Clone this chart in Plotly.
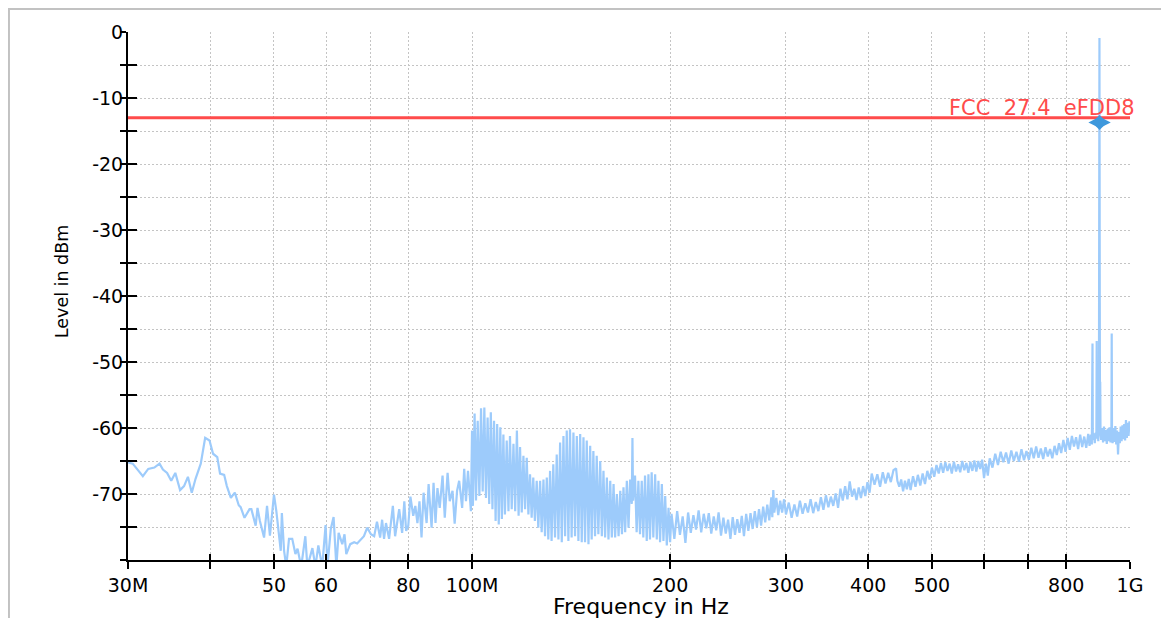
import plotly.graph_objects as go

# ---------------- data ----------------
freq_low = [30.0, 30.5, 31.6, 32.2, 32.9, 33.5, 33.9, 34.4, 34.9, 35.4, 36.0, 36.5, 37.0, 37.5, 38.0,
            38.7, 39.3, 39.9, 40.4, 41.0, 41.4, 42.0, 42.4, 43.0, 43.6, 44.2, 44.5, 45.1, 45.9, 46.2,
            46.9, 47.2, 47.6, 48.3, 48.8, 49.3, 50.0, 50.4, 51.2, 51.4, 51.8, 52.2, 52.7, 53.3, 53.9,
            54.3, 55.0, 55.8, 56.2, 57.2, 57.8, 58.4, 59.2, 59.9, 60.3, 61.0, 61.6, 62.2, 62.7, 63.5,
            64.0, 64.4, 65.3, 66.2, 66.9, 67.8, 68.5, 69.3, 70.2, 71.0, 71.7, 72.5, 73.0, 73.5, 74.0,
            74.8, 75.8, 76.4, 77.5, 78.3, 78.9, 79.4, 80.0, 80.6, 81.4, 82.0, 82.6, 83.2, 83.8, 84.4,
            85.3, 85.9, 86.8, 87.4, 88.0, 88.6, 89.3, 90.2, 90.9, 91.8, 92.5, 93.4, 94.1, 94.9, 95.6,
            96.6, 97.3, 97.9, 98.6, 99.6]
level_low = [-65.2, -65.4, -67.3, -66.2, -66.0, -65.4, -66.3, -66.8, -68.0, -66.8, -69.4, -68.8, -67.4, -69.8, -67.7,
             -65.4, -61.5, -61.9, -63.9, -64.4, -66.9, -67.1, -68.8, -70.6, -69.8, -71.7, -72.0, -73.6, -72.3, -72.3,
             -74.8, -72.1, -74.1, -76.6, -71.8, -76.3, -70.1, -72.5, -78.6, -72.9, -78.6, -81.0, -76.8, -76.8, -79.1,
             -78.3, -81.0, -76.4, -81.0, -78.2, -81.0, -77.8, -81.0, -74.7, -81.0, -75.3, -73.5, -81.0, -75.9, -77.6,
             -76.1, -79.1, -77.6, -77.3, -77.5, -76.8, -76.4, -75.1, -76.1, -76.4, -74.2, -76.6, -73.9, -76.8, -74.4,
             -76.8, -71.8, -76.4, -72.3, -75.9, -71.1, -75.6, -74.8, -70.4, -73.3, -71.8, -74.4, -71.1, -76.6, -69.8,
             -74.4, -68.5, -75.1, -68.3, -74.4, -69.1, -72.1, -67.2, -73.6, -66.8, -71.1, -69.5, -74.5, -69.5, -68.0,
             -72.1, -66.2, -71.1, -66.5, -72.6]

freq_mid = [100.0, 100.3, 100.9, 101.4, 102.0, 102.6, 103.2, 103.8, 104.4, 105.0, 105.6, 106.2, 106.8, 107.4,
            108.0, 108.6, 109.2, 109.8, 110.4, 111.0, 111.6, 112.2, 112.9, 113.6, 114.2, 114.9, 115.6, 116.3,
            117.0, 117.7, 118.3, 119.0, 119.7, 120.4, 121.1, 121.8, 122.5, 123.2, 123.9, 124.6, 125.4, 126.1,
            126.9, 127.6, 128.4, 129.1, 129.9, 130.6, 131.4, 132.1, 132.9, 133.7, 134.5, 135.3, 136.1, 136.9,
            137.7, 138.5, 139.3, 140.1, 140.9, 141.7, 142.6, 143.4, 144.3, 145.1, 146.0, 146.8, 147.7, 148.5,
            149.4, 150.3, 151.2, 152.0, 152.9, 153.8, 154.7, 155.6, 156.6, 157.5, 158.4, 159.3, 160.3, 161.2,
            162.2, 163.1, 164.1, 165.0, 166.0, 167.0, 168.0, 169.0, 169.9, 170.9, 171.9, 172.9, 173.9, 174.9,
            175.3, 175.7, 176.9, 177.9, 179.0, 180.0, 181.1, 182.1, 183.2, 184.3, 185.4, 186.4, 187.5, 188.6,
            189.8, 190.9, 192.0, 193.1, 194.3, 195.4, 196.6, 197.7, 198.9, 200.0]
level_mid = [-60.4, -71.8, -57.8, -71.0, -58.9, -70.3, -57.0, -69.6, -56.9, -70.6, -58.4, -71.5, -57.6, -72.3,
             -58.9, -74.1, -59.4, -74.6, -59.9, -73.8, -61.0, -73.1, -61.9, -72.6, -61.2, -72.3, -62.4, -72.6,
             -60.4, -73.3, -62.9, -72.8, -64.2, -72.3, -64.5, -73.1, -67.0, -73.6, -67.5, -74.1, -68.0, -75.1,
             -68.0, -75.8, -67.8, -76.4, -67.5, -76.9, -66.5, -77.1, -65.5, -76.6, -64.0, -76.9, -62.2, -77.3,
             -61.2, -76.4, -60.4, -77.1, -60.2, -76.6, -60.7, -76.4, -61.2, -77.1, -60.9, -77.3, -61.4, -77.3,
             -61.9, -77.6, -62.7, -76.9, -63.5, -76.4, -64.2, -76.1, -65.0, -76.4, -66.5, -76.6, -67.5, -76.9,
             -68.0, -76.6, -68.5, -76.6, -70.0, -76.4, -69.5, -76.1, -69.0, -75.8, -68.0, -75.1, -67.8, -71.5,
             -61.5, -71.0, -67.2, -75.8, -68.0, -76.1, -68.0, -76.6, -67.2, -77.1, -67.0, -76.9, -66.7, -76.6,
             -67.0, -76.9, -68.0, -77.3, -68.5, -77.1, -70.3, -77.8, -72.1, -77.3]

freq_high = [201, 203, 205, 207, 209, 211, 213, 215, 217, 219, 221, 223, 225, 227, 229, 231, 233, 235, 237, 239,
             241, 243, 245, 247, 249, 251, 253, 255, 257, 259, 261, 263, 265, 267, 269, 271, 273, 275, 277, 279,
             281, 283, 285, 286, 287, 288, 290, 292, 294, 296, 298, 300,
             303, 306, 309, 312, 315, 318, 321, 324, 327, 330, 333, 336, 339, 342, 345, 348, 351, 354, 357, 360,
             363, 366, 369, 372, 375, 378, 381, 384, 387, 390, 393, 396, 399, 402,
             405, 409, 413, 417, 421, 425, 429, 433, 437, 441, 443, 446, 449, 452, 455, 458, 461, 464, 468, 472,
             476, 480, 484, 488, 492, 496, 500, 504, 508, 512, 516, 520, 524, 528, 532, 536, 540, 544, 548, 552,
             556, 560, 564, 568, 572, 576, 580, 584, 588, 592, 596, 600, 604, 608,
             612, 618, 624, 630, 636, 642, 648, 654, 660, 666, 672, 678, 684, 690, 696, 702, 708, 714, 720, 726,
             732, 738, 744, 750, 756, 762, 768, 774, 780, 786, 792, 798, 804, 810, 816, 822, 828, 834, 840, 846,
             852, 858, 864, 868,
             872, 875, 877, 878, 881, 884, 887, 889, 890, 891, 893, 895, 897, 898, 898.6, 899.2, 899.6, 900.2,
             901, 902, 904, 907, 910, 913, 916, 919, 922, 925, 928, 931, 934, 937, 938, 939, 941, 944, 947, 950,
             953, 956, 959, 962, 965, 968, 971, 974, 977, 980, 983, 986, 989, 992, 995, 998, 1000]
level_high = [-73.0, -76.8, -72.6, -76.2, -73.4, -77.4, -72.8, -75.9, -73.2, -75.4, -72.5, -75.8, -73.0, -75.2,
              -72.9, -76.0, -73.4, -75.5, -72.8, -76.3, -73.6, -76.0, -73.9, -76.8, -73.5, -76.2, -73.8, -75.9,
              -73.3, -76.4, -73.0, -75.6, -72.9, -75.3, -72.6, -75.0, -72.3, -74.8, -71.9, -74.3, -71.6, -74.0,
              -70.5, -73.5, -69.4, -72.8, -70.6, -73.2, -71.0, -72.8, -70.8, -73.1,
              -71.3, -73.6, -71.6, -73.4, -71.0, -73.0, -71.4, -72.8, -70.8, -72.9, -71.2, -72.6, -70.5, -72.4,
              -70.2, -72.0, -70.4, -71.8, -69.9, -72.1, -69.2, -71.0, -68.8, -70.8, -68.1, -70.4, -69.2, -70.9,
              -69.0, -70.6, -68.8, -70.3, -68.2, -69.8,
              -66.9, -68.6, -67.0, -68.9, -66.7, -68.4, -66.8, -68.2, -66.4, -66.1, -68.0, -68.9, -67.8, -69.6,
              -68.0, -69.3, -67.7, -69.4, -67.3, -68.9, -67.1, -68.7, -66.9, -68.5, -66.5, -67.8, -66.0, -67.4,
              -65.6, -66.9, -65.3, -66.8, -65.2, -66.5, -65.4, -66.9, -65.1, -66.6, -65.5, -66.7, -65.0, -66.4,
              -65.3, -66.8, -65.1, -66.5, -64.9, -66.6, -65.0, -66.2, -64.8, -67.6, -65.4, -67.2,
              -64.6, -66.0, -63.9, -65.6, -63.6, -65.2, -63.7, -65.4, -63.4, -65.0, -63.6, -65.1, -63.2, -64.9,
              -63.5, -64.8, -63.0, -64.6, -62.8, -64.5, -63.1, -64.7, -62.9, -64.3, -63.2, -64.6, -62.7, -64.1,
              -62.3, -63.8, -61.8, -63.6, -61.5, -63.3, -61.2, -62.8, -61.4, -63.2, -61.0, -62.9, -61.3, -63.0,
              -60.9, -62.7,
              -61.0, -62.5, -47.2, -61.8, -60.8, -62.3, -60.7, -61.6, -46.8, -61.2, -60.5, -62.0, -55.0, -21.0,
              -0.9, -21.5, -41.0, -55.5, -53.0, -61.0, -61.8, -60.0, -62.2, -59.8, -62.0, -60.3, -62.4, -60.1,
              -62.0, -59.9, -62.2, -60.5, -45.7, -61.0, -62.3, -60.0, -62.1, -59.7, -62.5, -60.4, -64.0, -60.6,
              -62.3, -59.8, -62.0, -59.6, -61.7, -59.4, -61.9, -58.8, -61.5, -59.2, -61.2, -59.0, -60.5]

limit_freq = [30, 1000]
limit_level = [-13, -13]
limit_label = "FCC\u00a0\u00a027.4\u00a0\u00a0eFDD8"

marker_freq = [899]
marker_level = [-13.7]

x_tickvals = [30, 40, 50, 60, 70, 80, 100, 200, 300, 400, 500, 600, 700, 800, 1000]
x_ticktext = ["30M", "", "50", "60", "", "80", "100M", "200", "300", "400", "500", "", "", "800", "1G"]
y_tickvals = [0, -5, -10, -15, -20, -25, -30, -35, -40, -45, -50, -55, -60, -65, -70, -75, -80]
y_ticktext = ["0", "", "-10", "", "-20", "", "-30", "", "-40", "", "-50", "", "-60", "", "-70", "", ""]

x_label = "Frequency in Hz"
y_label = "Level in dBm"

# ---------------- figure ----------------
freq_all = freq_low + freq_mid + freq_high
level_all = level_low + level_mid + level_high

FONT = "DejaVu Sans, Liberation Sans, Arial, sans-serif"
xrange = [1.4771212547, 3.0]
MARK = "#3e98dc"

fig = go.Figure()
fig.add_trace(go.Scatter(x=freq_all, y=level_all, mode="lines",
                         line=dict(color="#9dcbfb", width=2.2), showlegend=False, hoverinfo="skip"))
fig.add_trace(go.Scatter(x=limit_freq, y=limit_level, mode="lines",
                         line=dict(color="#ff4b4b", width=3), showlegend=False, hoverinfo="skip"))
# marker: a wide diamond (two overlaid symbols give the 3:2 proportion)
fig.add_trace(go.Scatter(x=marker_freq, y=marker_level, mode="markers",
                         marker=dict(symbol="diamond-wide", size=16, color=MARK, line=dict(width=0)),
                         showlegend=False, hoverinfo="skip"))
fig.add_trace(go.Scatter(x=marker_freq, y=marker_level, mode="markers",
                         marker=dict(symbol="diamond", size=11.5, color=MARK, line=dict(width=0)),
                         showlegend=False, hoverinfo="skip"))
# empty trace to activate the overlay axes used for the inner half of the ticks
fig.add_trace(go.Scatter(x=[], y=[], xaxis="x2", yaxis="y2", showlegend=False))

fig.add_annotation(x=1.007, xref="paper", y=-13, yref="y", text=limit_label,
                   xanchor="right", yanchor="bottom", yshift=-4, showarrow=False,
                   font=dict(family=FONT, size=21, color="#ff4b4b"))
# axis titles
fig.add_annotation(x=-0.0659, xref="paper", y=0.528, yref="paper", text=y_label, textangle=-90,
                   xanchor="center", yanchor="middle", showarrow=False,
                   font=dict(family=FONT, size=17.5, color="black"))
fig.add_annotation(x=0.5115, xref="paper", y=-0.0890, yref="paper", text=x_label,
                   xanchor="center", yanchor="middle", showarrow=False,
                   font=dict(family=FONT, size=22, color="black"))

grid = dict(showgrid=True, gridcolor="#c4c4c4", gridwidth=1, griddash="2px,2px")

fig.update_layout(
    width=1161, height=610,
    margin=dict(l=120, r=39, t=24, b=58, autoexpand=False),
    paper_bgcolor="white", plot_bgcolor="white",
    xaxis=dict(type="log", range=xrange, tickvals=x_tickvals, ticktext=x_ticktext,
               ticks="outside", ticklen=7, tickwidth=2, tickcolor="black",
               showline=True, linecolor="black", linewidth=2, zeroline=False, automargin=False,
               tickfont=dict(family=FONT, size=19, color="black"),
               **grid),
    yaxis=dict(range=[-80, 0], tickvals=y_tickvals, ticktext=y_ticktext,
               ticks="outside", ticklen=6, tickwidth=2, tickcolor="black",
               showline=True, linecolor="black", linewidth=2, zeroline=False, automargin=False,
               ticklabelstandoff=-7,
               tickfont=dict(family=FONT, size=19, color="black"),
               **grid),
    xaxis2=dict(type="log", range=xrange, overlaying="x", anchor="y", side="bottom",
                tickvals=x_tickvals, ticks="inside", ticklen=6, tickwidth=2, tickcolor="black",
                showticklabels=False, showgrid=False, showline=False, zeroline=False),
    yaxis2=dict(range=[-80, 0], overlaying="y", anchor="x", side="left",
                tickvals=y_tickvals, ticks="inside", ticklen=9, tickwidth=2, tickcolor="black",
                showticklabels=False, showgrid=False, showline=False, zeroline=False),
    shapes=[dict(type="rect", xref="paper", yref="paper", x0=-0.1188, x1=1.2, y0=-0.3, y1=1.0436,
                 line=dict(color="#c2c2c2", width=2), fillcolor="rgba(0,0,0,0)", layer="below")],
)

fig.write_html("out.html")
